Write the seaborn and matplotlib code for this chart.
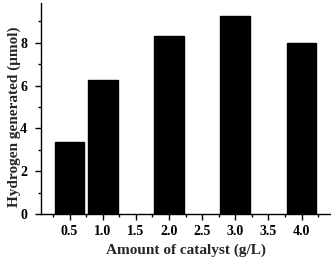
import matplotlib
matplotlib.use("Agg")
import matplotlib.pyplot as plt
import seaborn as sns
import pandas as pd
from matplotlib.ticker import MultipleLocator, FixedLocator

categories = ["0.5", "1.0", "1.5", "2.0", "2.5", "3.0", "3.5", "4.0"]
bar_categories = ["0.5", "1.0", "2.0", "3.0", "4.0"]
hydrogen = [3.35, 6.25, 8.32, 9.25, 7.98]

df = pd.DataFrame({"catalyst": bar_categories, "hydrogen": hydrogen})

sns.set_theme(style="ticks")
plt.rcParams["font.family"] = ["Liberation Serif", "DejaVu Serif"]
plt.rcParams["font.weight"] = "bold"

fig = plt.figure(figsize=(3.31, 2.57), dpi=100)
ax = fig.add_axes([0.124, 0.167, 0.873, 0.821])

sns.barplot(data=df, x="catalyst", y="hydrogen", order=categories,
            color="black", edgecolor="black", width=0.9, ax=ax,
            saturation=1, errorbar=None)

ax.set_xlim(-0.86, 7.86)
ax.set_ylim(0, 9.85)
ax.yaxis.set_major_locator(MultipleLocator(2))
ax.yaxis.set_minor_locator(MultipleLocator(1))
ax.xaxis.set_minor_locator(FixedLocator([i - 0.5 for i in range(len(categories) + 1)]))

for s in ["top", "right"]:
    ax.spines[s].set_visible(False)
for s in ["left", "bottom"]:
    ax.spines[s].set_linewidth(1.0)
    ax.spines[s].set_color("black")

ax.tick_params(axis="both", which="major", direction="out", length=4, width=1,
               labelsize=10, colors="black")
ax.tick_params(axis="y", which="major", pad=6)
ax.tick_params(axis="x", which="major", pad=4)
ax.tick_params(axis="both", which="minor", direction="out", length=2.5, width=1,
               colors="black")
for lab in ax.get_xticklabels() + ax.get_yticklabels():
    lab.set_fontweight("bold")

ax.set_xlabel("Amount of catalyst (g/L)", fontsize=11, fontweight="bold", labelpad=3.5)
ax.set_ylabel("Hydrogen generated (\u03bcmol)", fontsize=11, fontweight="bold")
ax.yaxis.set_label_coords(-0.068, 0.46)

fig.savefig("out.png", dpi=100)
